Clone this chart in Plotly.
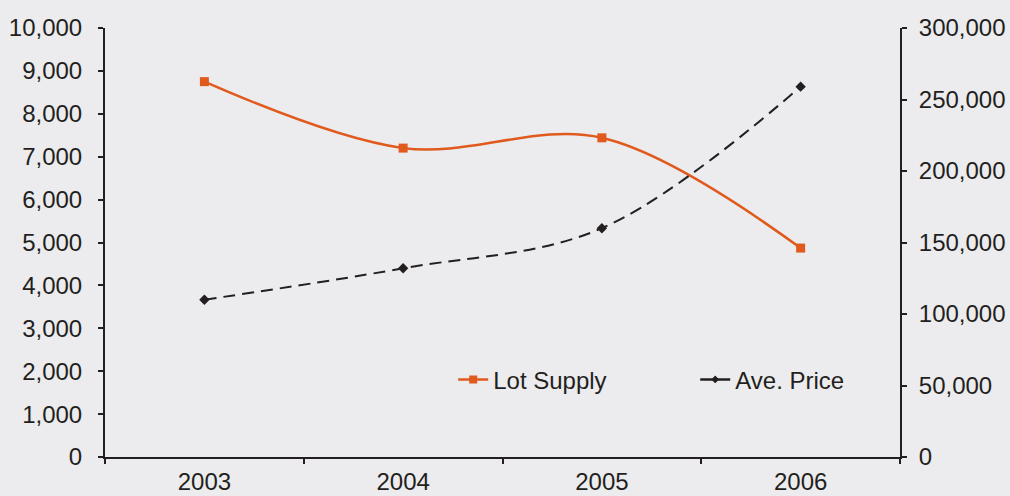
import plotly.graph_objects as go

years = ["2003", "2004", "2005", "2006"]
lot_supply = [8750, 7200, 7440, 4870]
ave_price = [110000, 132000, 160000, 259000]

left_ticks = list(range(0, 10001, 1000))
right_ticks = list(range(0, 300001, 50000))

BG = "#ECECEE"
INK = "#231F20"
ORANGE = "#E05A1E"
FONT = "Liberation Sans, Arial, sans-serif"

fig = go.Figure()
fig.add_trace(go.Scatter(
    x=years, y=lot_supply, name="Lot Supply", mode="lines+markers",
    line=dict(color=ORANGE, width=2.5, shape="spline", smoothing=1),
    marker=dict(symbol="square", size=9, color=ORANGE),
    showlegend=False, yaxis="y"))
fig.add_trace(go.Scatter(
    x=years, y=ave_price, name="Ave. Price", mode="lines+markers",
    line=dict(color=INK, width=2, dash="12px,7px", shape="spline", smoothing=1),
    marker=dict(symbol="diamond", size=8, color=INK),
    showlegend=False, yaxis="y2"))
# legend entries (solid line symbols like the reference)
fig.add_trace(go.Scatter(
    x=[None], y=[None], name="Lot Supply", mode="lines+markers",
    line=dict(color=ORANGE, width=2.5), marker=dict(symbol="square", size=8, color=ORANGE)))
fig.add_trace(go.Scatter(
    x=[None], y=[None], name="Ave. Price", mode="lines+markers",
    line=dict(color=INK, width=2.5), marker=dict(symbol="diamond", size=6, color=INK)))

fig.update_layout(
    width=1010, height=496,
    margin=dict(l=105, r=110, t=28, b=39),
    paper_bgcolor=BG, plot_bgcolor=BG,
    font=dict(family=FONT, size=24, color=INK),
    xaxis=dict(type="category", range=[-0.5, 3.5], tickson="boundaries",
               ticks="outside", ticklen=5, tickwidth=2, tickcolor=INK,
               showline=True, linecolor=INK, linewidth=2, showgrid=False,
               zeroline=False, ticklabelstandoff=2, automargin=False),
    yaxis=dict(range=[0, 10000], tickvals=left_ticks, tickformat=",",
               ticks="outside", ticklen=5, tickwidth=2, tickcolor=INK,
               showline=True, linecolor=INK, linewidth=2, showgrid=False,
               zeroline=False, ticklabelstandoff=11, automargin=False),
    yaxis2=dict(range=[0, 300000], tickvals=right_ticks, tickformat=",",
                overlaying="y", side="right",
                ticks="outside", ticklen=5, tickwidth=2, tickcolor=INK,
                showline=True, linecolor=INK, linewidth=2, showgrid=False,
                zeroline=False, ticklabelstandoff=7, automargin=False),
    legend=dict(orientation="h", x=0.438, y=0.18, xanchor="left", yanchor="middle",
                bgcolor="rgba(0,0,0,0)", entrywidth=197, entrywidthmode="pixels",
                font=dict(size=24, color=INK)),
)

fig.write_html("out.html")
